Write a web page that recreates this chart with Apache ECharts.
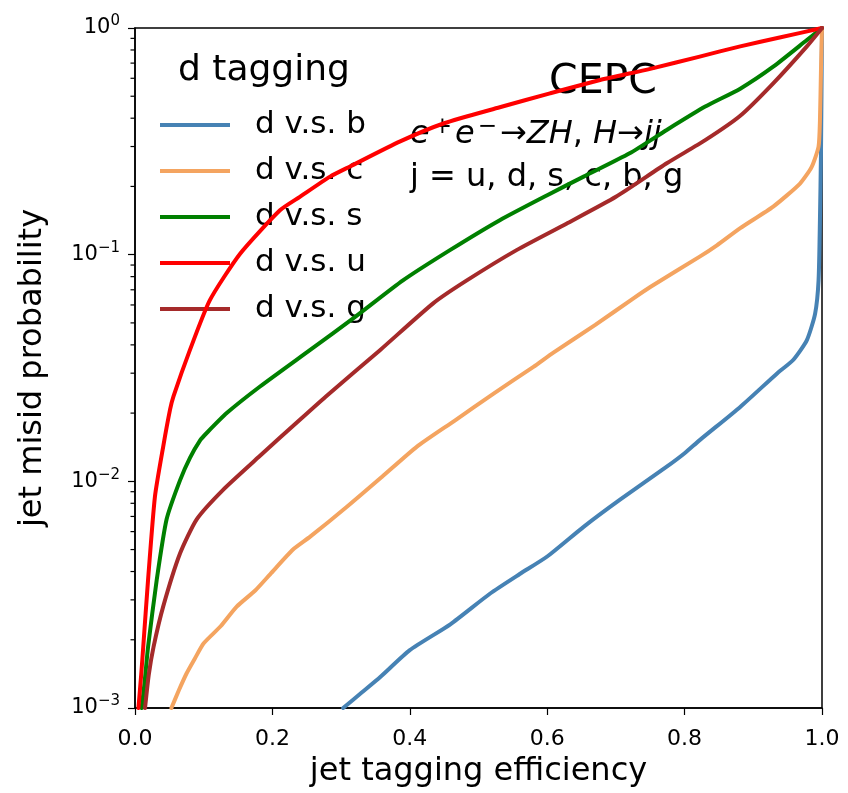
<!DOCTYPE html>
<html>
<head>
<meta charset="utf-8">
<script src="https://cdn.jsdelivr.net/npm/echarts/dist/echarts.min.js"></script>
<style>
  html, body { margin: 0; padding: 0; background: #fff; }
  #main { width: 848px; height: 793px; }
</style>
</head>
<body>
<div id="main"></div>
<script>
// ROC curves: efficiency (x) vs misid probability (y)
var effB = [0.303, 0.33, 0.357, 0.40, 0.459, 0.517, 0.56, 0.60, 0.653, 0.706, 0.774, 0.80, 0.822, 0.881, 0.935, 0.958, 0.978, 0.99, 0.995, 0.997, 0.9985, 1.0]
var misB = [0.001, 0.00117, 0.00137, 0.0018, 0.00234, 0.0032, 0.0039, 0.00466, 0.0063, 0.0083, 0.0116, 0.0133, 0.0152, 0.0213, 0.030, 0.0343, 0.042, 0.055, 0.077, 0.142, 0.28, 1.0]

var effC = [0.053, 0.064, 0.075, 0.087, 0.10, 0.125, 0.148, 0.175, 0.197, 0.23, 0.255, 0.308, 0.36, 0.41, 0.465, 0.522, 0.58, 0.609, 0.67, 0.725, 0.75, 0.822, 0.847, 0.881, 0.929, 0.968, 0.985, 0.995, 0.997, 0.9985, 1.0]
var misC = [0.001, 0.0012, 0.00142, 0.00165, 0.00193, 0.0023, 0.0028, 0.0033, 0.0039, 0.005, 0.0057, 0.0077, 0.0105, 0.0142, 0.0185, 0.0244, 0.032, 0.037, 0.049, 0.064, 0.072, 0.098, 0.11, 0.131, 0.163, 0.206, 0.244, 0.30, 0.39, 0.65, 1.0]

var effS = [0.0097, 0.014, 0.019, 0.0316, 0.046, 0.0655, 0.08, 0.095, 0.104, 0.1335, 0.182, 0.255, 0.32, 0.39, 0.459, 0.531, 0.60, 0.653, 0.72, 0.774, 0.83, 0.881, 0.929, 0.978, 1.0]
var misS = [0.001, 0.0013, 0.00186, 0.00367, 0.0068, 0.0101, 0.0127, 0.0152, 0.0163, 0.020, 0.0262, 0.038, 0.053, 0.077, 0.105, 0.142, 0.183, 0.221, 0.28, 0.355, 0.45, 0.54, 0.675, 0.885, 1.0]

var effU = [0.005, 0.009, 0.012, 0.019, 0.029, 0.041, 0.051, 0.056, 0.080, 0.109, 0.153, 0.211, 0.24, 0.284, 0.313, 0.386, 0.45, 0.531, 0.604, 0.677, 0.75, 0.822, 0.881, 0.94, 1.0]
var misU = [0.001, 0.0014, 0.00186, 0.00367, 0.00855, 0.0142, 0.0207, 0.0237, 0.038, 0.063, 0.101, 0.157, 0.18, 0.221, 0.245, 0.316, 0.38, 0.447, 0.515, 0.59, 0.66, 0.748, 0.83, 0.91, 1.0]

var effG = [0.0146, 0.02, 0.027, 0.041, 0.0655, 0.0898, 0.1286, 0.18, 0.24, 0.28, 0.357, 0.434, 0.483, 0.556, 0.628, 0.70, 0.774, 0.83, 0.881, 0.929, 0.978, 1.0]
var misG = [0.001, 0.0014, 0.00186, 0.0028, 0.0048, 0.0068, 0.0092, 0.0128, 0.0187, 0.024, 0.038, 0.061, 0.077, 0.105, 0.137, 0.18, 0.253, 0.32, 0.41, 0.57, 0.83, 1.0]

var names = ['d v.s. b', 'd v.s. c', 'd v.s. s', 'd v.s. u', 'd v.s. g']
var colors = ['#4682B4', '#F4A460', '#008000', '#FF0000', '#A52A2A']
// minor ticks of the log axis
var minorTicks = [0.002, 0.003, 0.004, 0.005, 0.006, 0.007, 0.008, 0.009,
  0.02, 0.03, 0.04, 0.05, 0.06, 0.07, 0.08, 0.09,
  0.2, 0.3, 0.4, 0.5, 0.6, 0.7, 0.8, 0.9]

var font = 'DejaVu Sans'

function pairs(xs, ys) {
  return xs.map(function (x, i) { return [x, ys[i]] })
}

var curves = [pairs(effB, misB), pairs(effC, misC), pairs(effS, misS), pairs(effU, misU), pairs(effG, misG)]

var myChart = echarts.init(document.getElementById('main'))

var series = curves.map(function (d, i) {
  return {
    name: names[i],
    type: 'line',
    data: d,
    showSymbol: false,
    symbol: 'none',
    smooth: 0.2,
    lineStyle: { color: colors[i], width: 4, join: 'round', cap: 'round' },
    itemStyle: { color: colors[i] },
    z: 3 + i,
  }
})

series.push({
  type: 'custom',
  name: 'minor',
  clip: false,
  silent: true,
  data: minorTicks.map(function (v) { return [0, v] }),
  renderItem: function (params, api) {
    var p = api.coord([0, api.value(1)])
    return {
      type: 'line',
      shape: { x1: p[0] - 4.5, y1: p[1], x2: p[0], y2: p[1] },
      style: { stroke: '#000', lineWidth: 1.2 },
    }
  },
})

var option = {
  animation: false,
  grid: {
    left: 135, right: 26, top: 28, bottom: 85,
    containLabel: false,
    outerBoundsMode: 'none',
    show: true, borderColor: '#000', borderWidth: 1.5,
  },
  legend: {
    data: names,
    orient: 'vertical',
    left: 155,
    top: 104,
    icon: 'rect',
    itemWidth: 70,
    itemHeight: 4,
    itemGap: 14,
    textStyle: {
      fontFamily: font, fontSize: 31, color: '#000',
      lineHeight: 32, padding: [0, 0, 0, 20],
    },
  },
  xAxis: {
    type: 'value',
    min: 0, max: 1, interval: 0.2,
    name: 'jet tagging efficiency',
    nameLocation: 'middle',
    nameGap: 48,
    nameTextStyle: { fontFamily: font, fontSize: 32, color: '#000' },
    axisLine: { lineStyle: { color: '#000', width: 1.5 } },
    axisTick: { show: true, inside: false, length: 7, lineStyle: { color: '#000', width: 1.2 } },
    axisLabel: {
      fontFamily: font, fontSize: 22, color: '#000', margin: 20,
      formatter: function (v) { return v.toFixed(1) },
    },
    splitLine: { show: false },
  },
  yAxis: {
    type: 'log',
    logBase: 10,
    min: 0.001, max: 1,
    name: 'jet misid probability',
    nameLocation: 'middle',
    nameGap: 86,
    nameTextStyle: { fontFamily: font, fontSize: 32, color: '#000' },
    axisLine: { lineStyle: { color: '#000', width: 1.5 } },
    axisTick: { show: true, inside: false, length: 7, lineStyle: { color: '#000', width: 1.2 } },
    axisLabel: {
      margin: 15,
      formatter: function (v) {
        var e = Math.round(Math.log10(v))
        return '{b|10}{s|' + (e < 0 ? '\u2212' + (-e) : e) + '}'
      },
      rich: {
        b: { fontFamily: font, fontSize: 21, color: '#000', lineHeight: 28 },
        s: { fontFamily: font, fontSize: 15, color: '#000', verticalAlign: 'top', lineHeight: 16 },
      },
    },
    splitLine: { show: false },
  },
  graphic: [
    {
      type: 'text', left: 178, top: 53,
      style: { text: 'd tagging', font: '36px "DejaVu Sans"', fill: '#000' },
    },
    {
      type: 'text', x: 603, y: 82,
      style: { text: 'CEPC', font: '41px "DejaVu Sans"', fill: '#000', align: 'center', verticalAlign: 'middle' },
    },
    {
      type: 'text', x: 410, y: 135,
      style: {
        text: '{i|e}{s|+}{i|e}{s|\u2212}{n|\u2192}{i|ZH}{n|, }{i|H}{n|\u2192}{i|jj}',
        verticalAlign: 'middle',
        rich: {
          i: { font: 'italic 32px "DejaVu Sans"', fill: '#000', lineHeight: 38 },
          n: { font: '32px "DejaVu Sans"', fill: '#000', lineHeight: 38 },
          s: { font: '23px "DejaVu Sans"', fill: '#000', verticalAlign: 'top', lineHeight: 20, padding: [0, 3, 0, 3] },
        },
      },
    },
    {
      type: 'text', x: 410, y: 178,
      style: { text: 'j = u, d, s, c, b, g', font: '32px "DejaVu Sans"', fill: '#000', verticalAlign: 'middle' },
    },
  ],
  series: series,
}

myChart.setOption(option)
</script>
</body>
</html>
